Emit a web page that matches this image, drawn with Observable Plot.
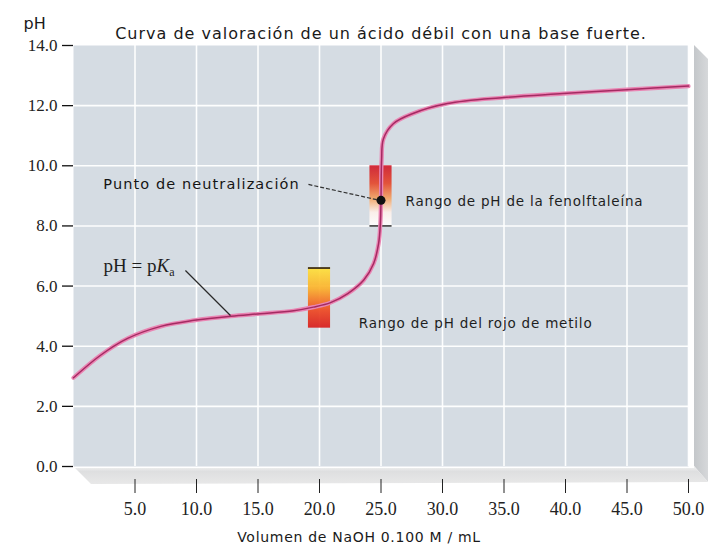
<!DOCTYPE html>
<html>
<head>
<meta charset="utf-8">
<script src="https://cdn.jsdelivr.net/npm/d3@7"></script>
<script src="https://cdn.jsdelivr.net/npm/@observablehq/plot@0.6"></script>
<style>
  body { margin: 0; background: #ffffff; }
  #chart svg { display: block; }
</style>
</head>
<body>
<div id="chart"></div>
<script>
// ---- data ----
const volume = [0, 2.2, 4.4, 7.1, 9.8, 12.8, 15.2, 17.9, 19.5, 20.9, 22.3, 23.6, 24.4, 24.8, 24.95, 25.0, 25.05, 25.2, 26.0, 27.6, 30.4, 35.0, 39.8, 45.3, 50];
const pHValues = [2.95, 3.7, 4.26, 4.66, 4.86, 5.0, 5.08, 5.18, 5.3, 5.45, 5.75, 6.2, 6.75, 7.4, 8.1, 8.9, 10.2, 10.9, 11.4, 11.74, 12.07, 12.27, 12.4, 12.54, 12.65];

const xTicks = [5, 10, 15, 20, 25, 30, 35, 40, 45, 50];
const yTicks = [0, 2, 4, 6, 8, 10, 12, 14];

const indicatorNames = ["Rango de pH del rojo de metilo", "Rango de pH de la fenolftaleína"];
const indicatorV1 = [19.1, 24.1];
const indicatorV2 = [20.9, 25.9];
const indicatorLow = [4.6, 8.0];
const indicatorHigh = [6.6, 10.0];
const indicatorLabelV = [23.2, 27.0];
const indicatorLabelPH = [4.76, 8.81];

const equivalenceV = 25.0;
const equivalencePH = 8.85;

const titleText = "Curva de valoración de un ácido débil con una base fuerte.";
const xTitle = "Volumen de NaOH 0.100 M / mL";
const yTitle = "pH";
const neutralLabel = "Punto de neutralización";
const pkaLabel = "pH = pKa";

// ---- tables built from the arrays ----
const curve = volume.map((v, i) => ({v, ph: pHValues[i]}));
const indicators = indicatorNames.map((name, i) => ({
  name, v1: indicatorV1[i], v2: indicatorV2[i], lo: indicatorLow[i], hi: indicatorHigh[i],
  lv: indicatorLabelV[i], lph: indicatorLabelPH[i], grad: i === 0 ? "url(#gradMR)" : "url(#gradPP)"
}));
const neutral = [{lv: 18.4, lph: 9.38, v1: 19.1, p1: 9.38, v2: equivalenceV - 0.1, p2: equivalencePH}];
const pka = [{lv: 2.44, lph: 6.68, v1: 9.1, p1: 6.52, v2: 12.76, p2: 5.02}];

// decorative 3D panel edges + gradient definitions
function decorations(index, scales, values, dims) {
  const g = d3.create("svg:g");
  const defs = g.append("defs");
  const mr = defs.append("linearGradient").attr("id", "gradMR").attr("x1", 0).attr("y1", 0).attr("x2", 0).attr("y2", 1);
  [[0, "#ffe23a"], [0.35, "#fbb02a"], [0.7, "#ee4a22"], [1, "#d81c1c"]].forEach(([o, c]) => mr.append("stop").attr("offset", o).attr("stop-color", c));
  const pp = defs.append("linearGradient").attr("id", "gradPP").attr("x1", 0).attr("y1", 0).attr("x2", 0).attr("y2", 1);
  [[0, "#cf1a2c"], [0.3, "#e4482c"], [0.55, "#f3a464"], [0.78, "#fdf0ea"], [1, "#ffffff"]].forEach(([o, c]) => pp.append("stop").attr("offset", o).attr("stop-color", c));
  const shelf = defs.append("linearGradient").attr("id", "gradShelf").attr("x1", 0).attr("y1", 0).attr("x2", 0).attr("y2", 1);
  [[0, "#f4f4f4"], [0.3, "#dedfe0"], [1, "#e8e8e8"]].forEach(([o, c]) => shelf.append("stop").attr("offset", o).attr("stop-color", c));
  const side = defs.append("linearGradient").attr("id", "gradSide").attr("x1", 0).attr("y1", 0).attr("x2", 1).attr("y2", 0);
  [[0, "#c4c7ca"], [1, "#d6d8da"]].forEach(([o, c]) => side.append("stop").attr("offset", o).attr("stop-color", c));

  const xl = scales.x(0), xr = scales.x(50), yb = scales.y(0), yt = scales.y(14);
  g.append("polygon").attr("points", `${xr + 6},${yt} ${xr + 20},${yt + 14} ${xr + 20},${yb + 16} ${xr + 6},${yb}`).attr("fill", "url(#gradSide)");
  g.append("polygon").attr("points", `${xl},${yb} ${xr + 6},${yb} ${xr + 20},${yb + 16} ${xl + 18},${yb + 18}`).attr("fill", "url(#gradShelf)");
  g.append("line").attr("x1", xl).attr("x2", xr + 6).attr("y1", yb + 1).attr("y2", yb + 1).attr("stroke", "#ffffff").attr("stroke-width", 2);
  return g.node();
}

const sans = "DejaVu Sans, Verdana, sans-serif";
const serif = "Liberation Serif, Times New Roman, serif";

const chart = Plot.plot({
  width: 708,
  height: 547,
  marginLeft: 73,
  marginRight: 20,
  marginTop: 45,
  marginBottom: 81,
  style: {background: "#ffffff", color: "#222"},
  x: {domain: [0, 50]},
  y: {domain: [0, 14]},
  marks: [
    decorations,
    Plot.frame({fill: "#d5dce3", stroke: "none"}),
    Plot.gridX(xTicks, {stroke: "#ffffff", strokeOpacity: 0.95, strokeWidth: 1.6}),
    Plot.gridY(yTicks.filter(d => d > 0 && d < 14), {stroke: "#ffffff", strokeOpacity: 0.95, strokeWidth: 1.6}),
    Plot.axisY({ticks: yTicks, tickFormat: d => d.toFixed(1), tickSize: 11, tickPadding: 5, fontSize: 17, fontFamily: serif, stroke: "#111", strokeWidth: 1.3, label: null}),
    Plot.axisX({ticks: xTicks, tickFormat: d => d.toFixed(1), tickSize: 14, dy: 13, tickPadding: 9, fontSize: 18, fontFamily: serif, stroke: "#222", label: null}),
    // indicator ranges
    Plot.rect(indicators, {x1: "v1", x2: "v2", y1: "lo", y2: "hi", fill: "grad", fillOpacity: 0.92}),
    Plot.ruleY(indicators.slice(0, 1), {y: "hi", x1: "v1", x2: "v2", stroke: "#2a1a10", strokeWidth: 1.6}),
    Plot.ruleY(indicators.slice(1), {y: "lo", x1: "v1", x2: "v2", stroke: "#3a3a3a", strokeWidth: 1.6}),
    // titration curve
    Plot.line(curve, {x: "v", y: "ph", curve: "catmull-rom", stroke: "#e985b3", strokeWidth: 4.2}),
    Plot.line(curve, {x: "v", y: "ph", curve: "catmull-rom", stroke: "#a52a62", strokeWidth: 1.5}),
    // annotations
    Plot.link(neutral, {x1: "v1", y1: "p1", x2: "v2", y2: "p2", stroke: "#333", strokeWidth: 1.2, strokeDasharray: "4,2"}),
    Plot.dot([{v: equivalenceV, ph: equivalencePH}], {x: "v", y: "ph", r: 4.5, fill: "#111"}),
    Plot.text(neutral, {x: "lv", y: "lph", text: () => neutralLabel, textAnchor: "end", fontSize: 14.5, fontFamily: sans, fill: "#151515"}),
    Plot.link(pka, {x1: "v1", y1: "p1", x2: "v2", y2: "p2", stroke: "#2a2a2a", strokeWidth: 1.3}),
    Plot.text(pka, {x: "lv", y: "lph", text: () => pkaLabel, textAnchor: "start", fontSize: 19, fontFamily: serif, fill: "#1e1e1e"}),
    Plot.text(indicators, {x: "lv", y: "lph", text: "name", textAnchor: "start", fontSize: 13.5, fontFamily: sans, fill: "#1e1e1e"}),
    // titles
    Plot.text([titleText], {frameAnchor: "top", dy: -7, lineAnchor: "bottom", fontSize: 16, fontFamily: sans, fill: "#1a1a1a"}),
    Plot.text([yTitle], {frameAnchor: "top-left", dx: -50, dy: -17, lineAnchor: "bottom", textAnchor: "start", fontSize: 16, fontFamily: sans, fill: "#1a1a1a"}),
    Plot.text([xTitle], {frameAnchor: "bottom", dx: -22, dy: 75, lineAnchor: "bottom", fontSize: 14, fontFamily: sans, fill: "#1a1a1a"})
  ]
});

// rich formatting for pH = pKa (italic K, subscript a)
d3.select(chart).selectAll("text").each(function() {
  if (this.textContent === pkaLabel) {
    const t = d3.select(this);
    t.text(null);
    t.append("tspan").text("pH = p");
    t.append("tspan").attr("font-style", "italic").text("K");
    t.append("tspan").attr("font-size", 12).attr("dy", "0.35em").text("a");
  }
});
// letter spacing for the sans labels
d3.select(chart).selectAll("text").each(function() {
  const s = this.textContent;
  if (s === titleText) this.setAttribute("letter-spacing", "1px");
  if (s === xTitle) this.setAttribute("letter-spacing", "0.7px");
  if (s === neutralLabel) this.setAttribute("letter-spacing", "1.1px");
  if (indicatorNames.includes(s)) this.setAttribute("letter-spacing", "0.8px");
});

document.getElementById("chart").appendChild(chart);
</script>
</body>
</html>
